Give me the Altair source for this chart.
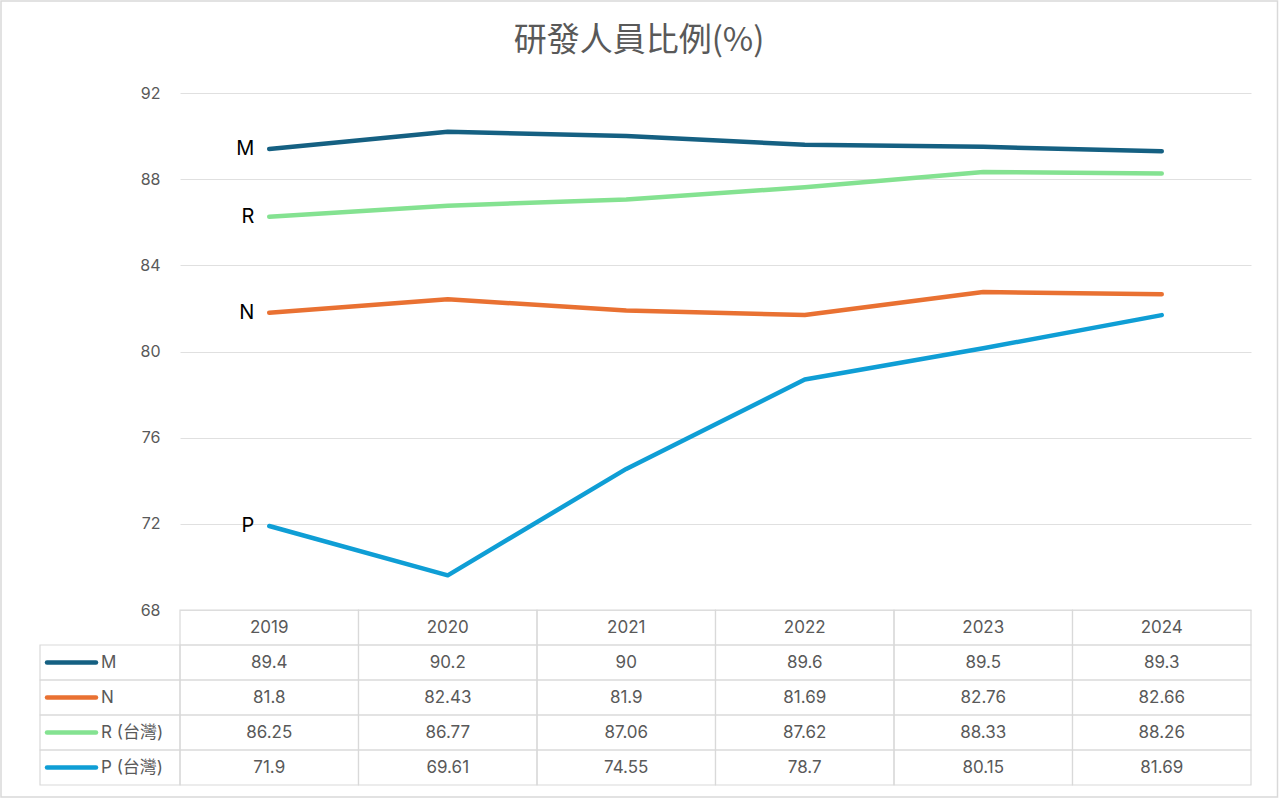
import altair as alt
import pandas as pd

# ---------------- data ----------------
years = ["2019", "2020", "2021", "2022", "2023", "2024"]
series_names = ["M", "N", "R (台灣)", "P (台灣)"]
short_labels = ["M", "N", "R", "P"]
m_vals = [89.4, 90.2, 90, 89.6, 89.5, 89.3]
n_vals = [81.8, 82.43, 81.9, 81.69, 82.76, 82.66]
r_vals = [86.25, 86.77, 87.06, 87.62, 88.33, 88.26]
p_vals = [71.9, 69.61, 74.55, 78.7, 80.15, 81.69]
y_ticks = [68, 72, 76, 80, 84, 88, 92]
chart_title = "研發人員比例(%)"
header_key = "header"

colors = ["#156082", "#E97132", "#84E291", "#0F9ED5"]

values_by_series = [m_vals, n_vals, r_vals, p_vals]
records = []
for name, short, vals in zip(series_names, short_labels, values_by_series):
    for y, v in zip(years, vals):
        records.append({"year": y, "series": name, "row": name, "short": short,
                        "value": v, "label": str(v)})
df = pd.DataFrame(records)

header_df = pd.DataFrame({"year": years, "row": [header_key] * len(years), "label": years})
cells_df = pd.DataFrame([{"year": y, "row": r} for r in [header_key] + series_names for y in years])
legend_df = pd.DataFrame({"row": series_names, "series": series_names})
title_df = pd.DataFrame({"t": [chart_title]})

FONT = "Inter, 'Noto Sans CJK TC', sans-serif"
W, H = 1071, 517

x_scale = alt.Scale(type="band", domain=years, paddingInner=0, paddingOuter=0)
y_line = alt.Scale(domain=[68, 92], nice=False, zero=False)
y_table = alt.Scale(type="band", domain=[header_key] + series_names,
                    range=[517, 692], paddingInner=0, paddingOuter=0)
color = alt.Color("series:N", scale=alt.Scale(domain=series_names, range=colors), legend=None)

X = alt.X("year:N", scale=x_scale, axis=None, bandPosition=0.5)
Xr = alt.X("year:N", scale=x_scale, axis=None)
Yt = alt.Y("row:N", scale=y_table, axis=None, bandPosition=0.5)
Ytr = alt.Y("row:N", scale=y_table, axis=None)

lines = alt.Chart(df).mark_line(strokeWidth=4.5, strokeCap="round", strokeJoin="round").encode(
    x=X,
    y=alt.Y("value:Q", scale=y_line,
            axis=alt.Axis(values=y_ticks, grid=True, gridColor="#E0E0E0", gridWidth=1,
                          domain=False, ticks=False, labelPadding=20, labelFontSize=16,
                          labelColor="#595959", labelFont=FONT, title=None)),
    color=color,
    detail="series:N",
)

end_labels = alt.Chart(df).transform_filter(alt.datum.year == years[0]).mark_text(
    align="right", baseline="middle", dx=-15, fontSize=20, color="#000000", font=FONT
).encode(x=X, y=alt.Y("value:Q", scale=y_line, axis=None), text="short:N")

cells = alt.Chart(cells_df).mark_rect(fillOpacity=0, stroke="#D9D9D9", strokeWidth=1.2).encode(
    x=Xr, y=Ytr
)

legend_cells = alt.Chart(legend_df).mark_rect(fillOpacity=0, stroke="#D9D9D9", strokeWidth=1.2).encode(
    x=alt.value(-140), x2=alt.value(0), y=Ytr
)

header_text = alt.Chart(header_df).mark_text(fontSize=17, color="#595959", font=FONT).encode(
    x=X, y=Yt, text="label:N"
)

value_text = alt.Chart(df).mark_text(fontSize=17, color="#595959", font=FONT).encode(
    x=X, y=Yt, text="label:N"
)

legend_swatch = alt.Chart(legend_df).mark_rule(strokeWidth=4.5, strokeCap="round").encode(
    x=alt.value(-133), x2=alt.value(-84), y=Yt, color=color
)

legend_text = alt.Chart(legend_df).mark_text(align="left", fontSize=17, color="#595959", font=FONT).encode(
    x=alt.value(-79), y=Yt, text="row:N"
)

title_text = alt.Chart(title_df).mark_text(
    fontSize=33, color="#595959", font="'Noto Sans CJK TC'", baseline="middle"
).encode(x=alt.value(459), y=alt.value(-52), text="t:N")

border = alt.Chart(pd.DataFrame({"k": [0]})).mark_rect(
    fillOpacity=0, stroke="#D9D9D9", strokeWidth=1.5
).encode(x=alt.value(-179), x2=alt.value(1097.5), y=alt.value(-92), y2=alt.value(704))

chart = alt.layer(
    lines, end_labels, cells, legend_cells, header_text, value_text,
    legend_swatch, legend_text, title_text, border
).resolve_scale(y="independent").properties(
    width=W, height=H,
    autosize=alt.AutoSizeParams(type="none"),
    padding={"left": 180, "top": 93, "right": 28, "bottom": 190},
    background="white",
).configure_view(stroke=None)

chart.save("out.html", embed_options={"renderer": "svg", "actions": False})
